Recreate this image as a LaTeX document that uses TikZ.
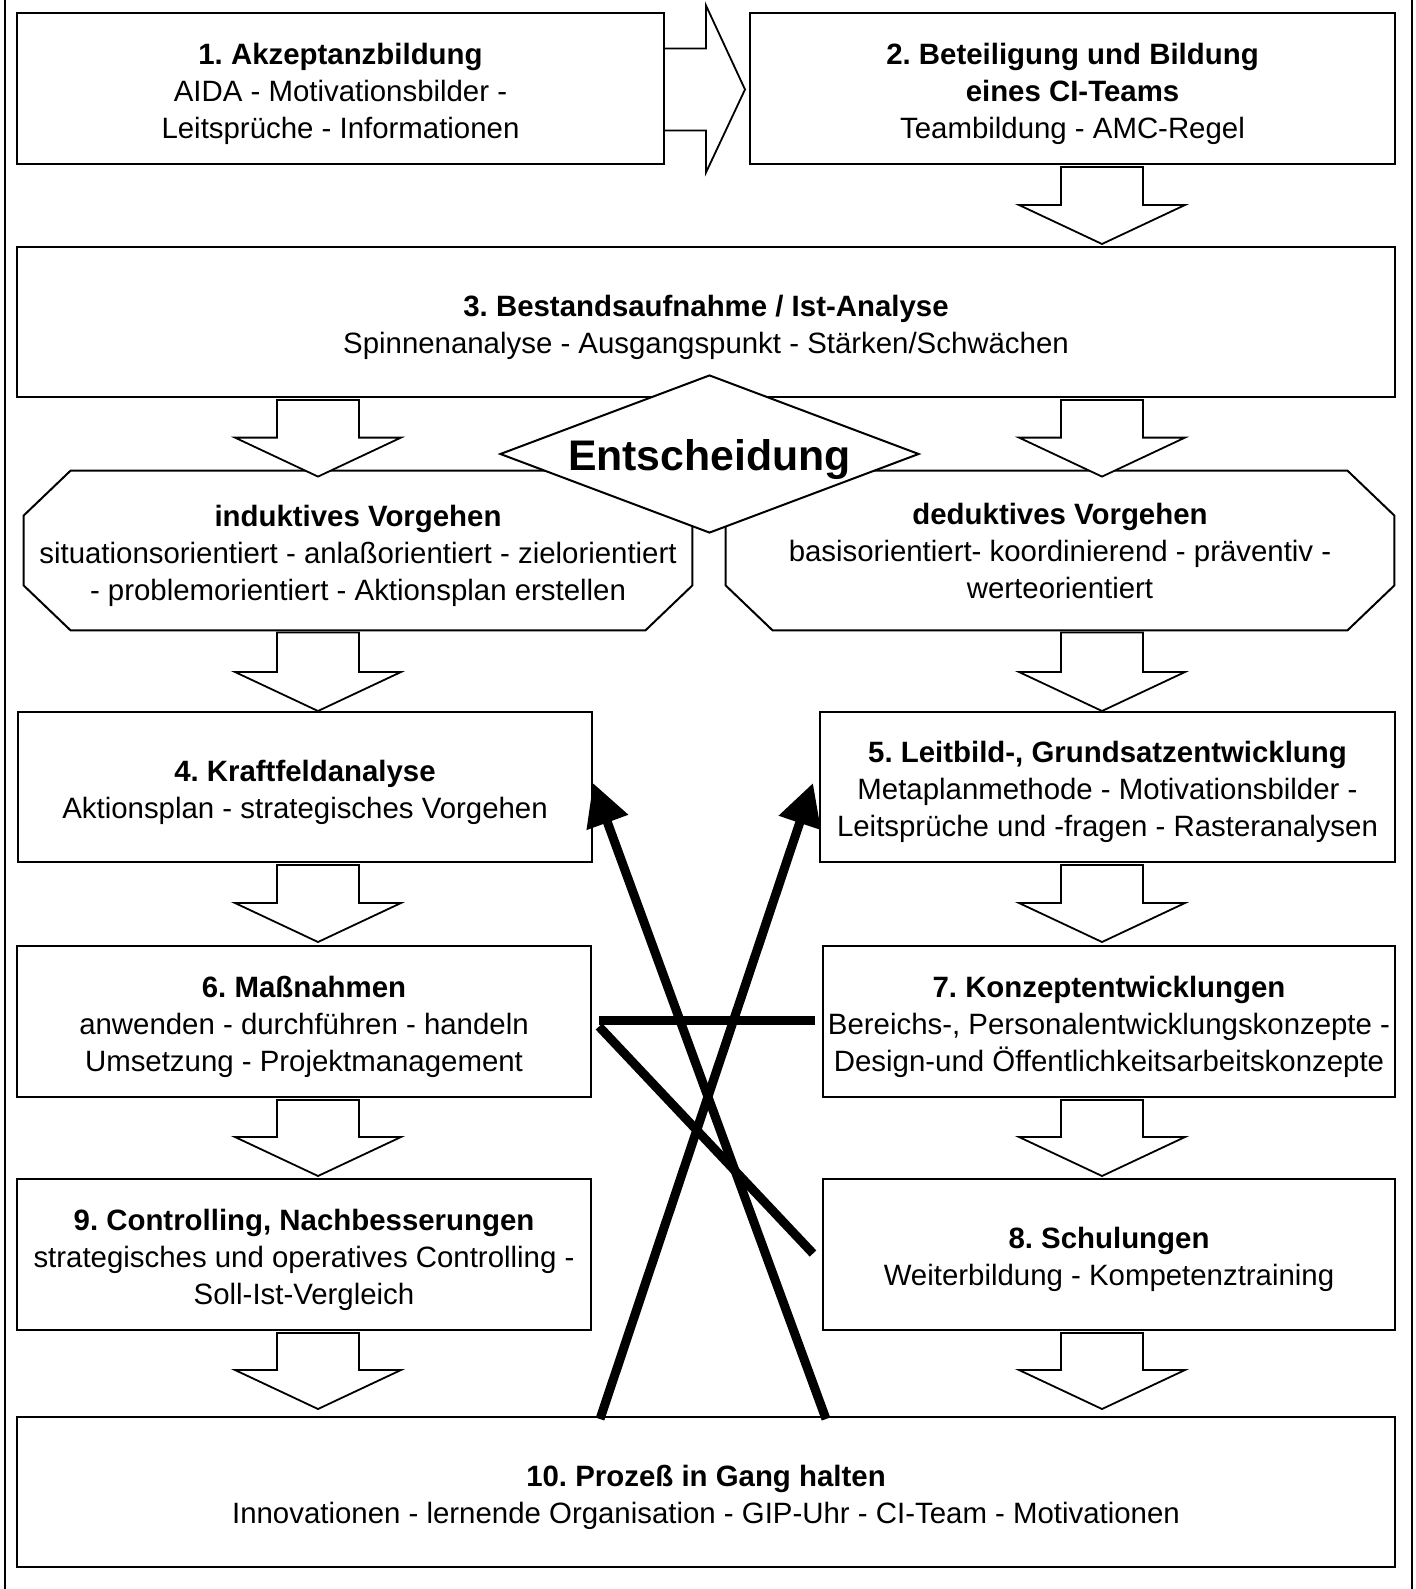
\documentclass[tikz,border=0pt]{standalone}
\usepackage{fontspec}
\setmainfont{Liberation Sans}
\frenchspacing
\usetikzlibrary{calc,shapes.geometric,arrows.meta}

% title line, with a strut on top
\newcommand{\ttl}[1]{\rule{0pt}{15.8pt}\textbf{#1}}

% down block arrow: x, from node, to node, tip offset
\newcommand{\downblock}[4]{%
\path (#1,0 |- #2.south) coordinate (top) (#1,0 |- #3.north) coordinate (tip);
\draw[blockarrow] ($(top)+(-41,2)$) -- ($(tip)+(-41,#4-39)$) -- ($(tip)+(-83,#4-39)$) -- ($(tip)+(0,#4)$)
  -- ($(tip)+(83,#4-39)$) -- ($(tip)+(41,#4-39)$) -- ($(top)+(41,2)$) -- cycle;}

% octagon round a node
\newcommand{\octframe}[1]{%
\draw[boxline] ($(#1.north west)+(47,0)$) -- ($(#1.north east)+(-47,0)$) -- ($(#1.north east)+(0,45)$)
  -- ($(#1.south east)+(0,-45)$) -- ($(#1.south east)+(-47,0)$) -- ($(#1.south west)+(47,0)$)
  -- ($(#1.south west)+(0,-45)$) -- ($(#1.north west)+(0,45)$) -- cycle;}

\begin{document}
\begin{tikzpicture}[x=0.5pt,y=-0.5pt,
  txt/.style={align=center,inner sep=0pt,font=\fontsize{14.7}{18.5}\selectfont},
  box/.style={txt,draw,line width=1pt,fill=white},
  octbox/.style={txt,minimum width=334pt,minimum height=79.5pt},
  boxline/.style={line width=1pt},
  blockarrow/.style={line width=0.9pt,fill=white},
  decision/.style={diamond,draw,fill=white,line width=1pt,aspect=2.65,inner sep=0pt,font=\fontsize{21.4}{25}\selectfont\bfseries},
  thickline/.style={line width=4.5pt},
  thickarrow/.style={line width=4.5pt,-{Triangle[length=21pt,width=21pt]}}]
\useasboundingbox (0,0) rectangle (1415,1589);
\draw[boxline] (5,0) -- (5,1589);
\draw[boxline] (1412,0) -- (1412,1589);

\node[box,minimum width=323.5pt,minimum height=75.5pt] (b1) at (340.5,88.5)
  {\ttl{1. Akzeptanzbildung}\\ AIDA - Motivationsbilder -\\ Leitsprüche - Informationen};
\node[box,minimum width=322.5pt,minimum height=75.5pt] (b2) at (1072.5,88.5)
  {\ttl{2. Beteiligung und Bildung}\\ \textbf{eines CI-Teams}\\ Teambildung - AMC-Regel};
\node[box,minimum width=689pt,minimum height=75pt] (b3) at (706,322)
  {\ttl{3. Bestandsaufnahme / Ist-Analyse}\\ Spinnenanalyse - Ausgangspunkt - Stärken/Schwächen};

\node[octbox] (octL) at (358,550.5)
  {\ttl{induktives Vorgehen}\\ situationsorientiert - anlaßorientiert - zielorientiert\\ - problemorientiert - Aktionsplan erstellen};
\node[octbox] (octR) at (1060,550.5)
  {\textbf{deduktives Vorgehen}\\ basisorientiert- koordinierend - präventiv -\\ werteorientiert};
\octframe{octL}
\octframe{octR}

\node[box,minimum width=287pt,minimum height=75pt] (b4) at (305,787)
  {\ttl{4. Kraftfeldanalyse}\\ Aktionsplan - strategisches Vorgehen};
\node[box,minimum width=287.5pt,minimum height=75pt] (b5) at (1107.5,787)
  {\ttl{5. Leitbild-, Grundsatzentwicklung}\\ Metaplanmethode - Motivationsbilder -\\ Leitsprüche und -fragen - Rasteranalysen};
\node[box,minimum width=287pt,minimum height=75.5pt] (b6) at (304,1021.5)
  {\ttl{6. Maßnahmen}\\ anwenden - durchführen - handeln\\ Umsetzung - Projektmanagement};
\node[box,minimum width=286pt,minimum height=75.5pt] (b7) at (1109,1021.5)
  {\ttl{7. Konzeptentwicklungen}\\ Bereichs-, Personalentwicklungskonzepte -\\ Design-und Öffentlichkeitsarbeitskonzepte};
\node[box,minimum width=287pt,minimum height=75.5pt] (b9) at (304,1254.5)
  {\ttl{9. Controlling, Nachbesserungen}\\ strategisches und operatives Controlling -\\ Soll-Ist-Vergleich};
\node[box,minimum width=286pt,minimum height=75.5pt] (b8) at (1109,1254.5)
  {\ttl{8. Schulungen}\\ Weiterbildung - Kompetenztraining};
\node[box,minimum width=689pt,minimum height=75pt] (b10) at (706,1492)
  {\ttl{10. Prozeß in Gang halten}\\ Innovationen - lernende Organisation - GIP-Uhr - CI-Team - Motivationen};

% block arrows
\draw[blockarrow] ($(b1.east)+(0,-40)$) -- ($(b2.west)+(-43,-40)$) -- ($(b2.west)+(-43,-83)$) -- ($(b2.west)+(-4,1)$)
  -- ($(b2.west)+(-43,84)$) -- ($(b2.west)+(-43,42)$) -- ($(b1.east)+(0,42)$);
\downblock{1102}{b2}{b3}{-2}
\downblock{318}{b3}{octL}{6}
\downblock{1102}{b3}{octR}{6}
\downblock{318}{octL}{b4}{0}
\downblock{1102}{octR}{b5}{0}
\downblock{318}{b4}{b6}{-3}
\downblock{1102}{b5}{b7}{-3}
\downblock{318}{b6}{b9}{-2}
\downblock{1102}{b7}{b8}{-2}
\downblock{318}{b9}{b10}{-7}
\downblock{1102}{b8}{b10}{-7}

\node[decision,minimum width=209.5pt,minimum height=79pt] (ent) at (709.5,454)
  {\raisebox{-3pt}[\height][\depth]{Entscheidung}};

% feedback lines
\draw[thickarrow] ($(b10.north)+(120,3)$) -- ($(b4.east)+(0,-4)$);
\draw[thickarrow] ($(b10.north)+(-106,3)$) -- ($(b5.west)+(-6,-4)$);
\draw[thickline] ($(b7.west)+(-7,-1)$) -- ($(b6.east)+(7,-1)$);
\draw[thickline] ($(b6.east)+(7,5)$) -- ($(b8.west)+(-9,-1)$);
\end{tikzpicture}
\end{document}
